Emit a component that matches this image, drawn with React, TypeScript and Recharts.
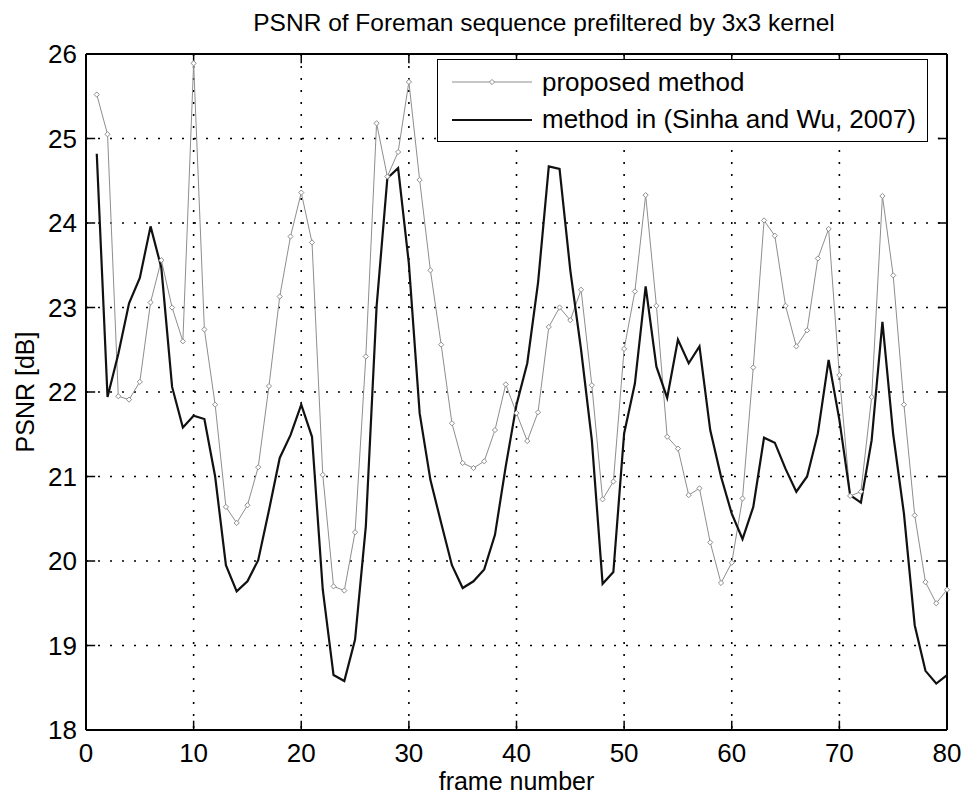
import { LineChart, Line, XAxis, YAxis, CartesianGrid, ReferenceLine, Legend } from 'recharts';

const FONT = '"Liberation Sans", Arial, sans-serif';
const GRAY = '#8e8e8e';
const INK = '#111';

// PSNR per frame
const proposed = [
  25.52, 25.05, 21.95, 21.91, 22.12, 23.06, 23.56, 23.0, 22.6, 25.89,
  22.74, 21.85, 20.64, 20.45, 20.66, 21.11, 22.07, 23.13, 23.84, 24.36,
  23.77, 21.02, 19.7, 19.65, 20.34, 22.42, 25.18, 24.55, 24.84, 25.67,
  24.51, 23.44, 22.56, 21.63, 21.16, 21.1, 21.18, 21.55, 22.09, 21.75,
  21.42, 21.76, 22.77, 23.0, 22.85, 23.21, 22.08, 20.73, 20.94, 22.51,
  23.19, 24.33, 23.02, 21.47, 21.33, 20.78, 20.86, 20.22, 19.74, 19.98,
  20.74, 22.29, 24.03, 23.85, 23.02, 22.54, 22.73, 23.58, 23.93, 22.2,
  20.77, 20.82, 21.94, 24.32, 23.38, 21.85, 20.54, 19.75, 19.5, 19.66,
];
const sinhaWu = [
  24.82, 21.94, 22.45, 23.05, 23.35, 23.96, 23.47, 22.06, 21.58, 21.72,
  21.68, 21.0, 19.95, 19.64, 19.76, 20.01, 20.6, 21.22, 21.49, 21.85,
  21.47, 19.66, 18.65, 18.58, 19.07, 20.41, 23.01, 24.53, 24.65, 23.52,
  21.75, 20.96, 20.45, 19.95, 19.68, 19.76, 19.9, 20.31, 21.12, 21.85,
  22.34, 23.29, 24.67, 24.64, 23.44, 22.5, 21.43, 19.73, 19.87, 21.51,
  22.1, 23.25, 22.3, 21.93, 22.62, 22.34, 22.54, 21.55, 21.0, 20.56,
  20.26, 20.64, 21.46, 21.4, 21.09, 20.82, 21.0, 21.51, 22.38, 21.67,
  20.78, 20.69, 21.43, 22.83, 21.5, 20.56, 19.24, 18.7, 18.55, 18.65,
];
const xTicks = [0, 10, 20, 30, 40, 50, 60, 70, 80];
const yTicks = [18, 19, 20, 21, 22, 23, 24, 25, 26];

const data = proposed.map((p, i) => ({ frame: i + 1, proposed: p, sinha: sinhaWu[i] }));

function Diamond(props: any) {
  const { cx, cy, index } = props;
  if (cx == null || cy == null) return <g key={`d${index}`} />;
  const r = 2.6;
  return (
    <path key={`d${index}`} d={`M${cx},${cy - r}L${cx + r},${cy}L${cx},${cy + r}L${cx - r},${cy}Z`}
      fill="#fff" stroke={GRAY} strokeWidth={1} />
  );
}

function LegendBox() {
  const rows = [
    { name: 'proposed method', color: GRAY, width: 1, marker: true },
    { name: 'method in (Sinha and Wu, 2007)', color: INK, width: 2.2, marker: false },
  ];
  return (
    <div style={{
      width: 491, height: 83, boxSizing: 'border-box', border: '1.5px solid #000', background: '#fff',
      fontFamily: FONT, fontSize: 26, color: '#000', position: 'relative',
    }}>
      {rows.map((r, i) => (
        <div key={r.name} style={{ position: 'absolute', left: 14, top: 6 + i * 37.6, height: 32, display: 'flex', alignItems: 'center' }}>
          <svg width={80} height={12} style={{ marginRight: 10 }}>
            <line x1={0} x2={80} y1={6} y2={6} stroke={r.color} strokeWidth={r.width} />
            {r.marker && <path d="M40,3.4L42.6,6L40,8.6L37.4,6Z" fill="#fff" stroke={GRAY} />}
          </svg>
          <span style={{ whiteSpace: 'nowrap' }}>{r.name}</span>
        </div>
      ))}
    </div>
  );
}

export default function App() {
  const tickStyle = { fill: '#000', fontSize: 26, fontFamily: FONT };
  return (
    <div style={{ position: 'relative', width: 966, height: 798, background: '#fff' }}>
      <style>{'body{margin:0}'}</style>
      <div style={{
        position: 'absolute', left: 144, width: 800, top: 9, textAlign: 'center',
        fontFamily: FONT, fontSize: 24.5, color: '#000', lineHeight: '28px',
      }}>
        PSNR of Foreman sequence prefiltered by 3x3 kernel
      </div>
      <LineChart width={966} height={798} data={data} margin={{ top: 54, right: 19, left: 0, bottom: 0 }}>
        <CartesianGrid stroke="#000" strokeWidth={1.6} strokeDasharray="2 10" />
        <XAxis dataKey="frame" type="number" domain={[0, 80]} ticks={xTicks} height={68}
          tickLine={false} tickSize={0} tickMargin={14} tick={tickStyle}
          axisLine={{ stroke: '#000', strokeWidth: 2 }}
          label={{
            content: (p: any) => {
              const vb = p.viewBox;
              return <text x={vb.x + vb.width / 2} y={vb.y + vb.height - 8} textAnchor="middle"
                fontFamily={FONT} fontSize={25} fill="#000">frame number</text>;
            },
          }} />
        <YAxis type="number" domain={[18, 26]} ticks={yTicks} width={86} interval={0}
          tickLine={false} tickSize={0} tickMargin={9} tick={tickStyle}
          axisLine={{ stroke: '#000', strokeWidth: 2 }}
          label={{
            content: (p: any) => {
              const vb = p.viewBox;
              const cx = 25;
              const cy = vb.y + vb.height / 2;
              return <text x={cx} y={cy} transform={`rotate(-90 ${cx} ${cy})`} textAnchor="middle"
                dominantBaseline="central" fontFamily={FONT} fontSize={25} fill="#000">PSNR [dB]</text>;
            },
          }} />
        <ReferenceLine y={26} stroke="#000" strokeWidth={2} />
        <ReferenceLine x={80} stroke="#000" strokeWidth={2} />
        {xTicks.map((t) => (
          <ReferenceLine key={`xb${t}`} segment={[{ x: t, y: 18 }, { x: t, y: 18.11 }]} stroke="#000" strokeWidth={1.5} />
        ))}
        {xTicks.map((t) => (
          <ReferenceLine key={`xt${t}`} segment={[{ x: t, y: 26 }, { x: t, y: 25.89 }]} stroke="#000" strokeWidth={1.5} />
        ))}
        {yTicks.map((t) => (
          <ReferenceLine key={`yl${t}`} segment={[{ x: 0, y: t }, { x: 0.85, y: t }]} stroke="#000" strokeWidth={1.5} />
        ))}
        {yTicks.map((t) => (
          <ReferenceLine key={`yr${t}`} segment={[{ x: 80, y: t }, { x: 79.15, y: t }]} stroke="#000" strokeWidth={1.5} />
        ))}
        <Line dataKey="proposed" name="proposed method" stroke={GRAY} strokeWidth={1} dot={Diamond}
          activeDot={false} isAnimationActive={false} />
        <Line dataKey="sinha" name="method in (Sinha and Wu, 2007)" stroke={INK} strokeWidth={2.2} dot={false}
          activeDot={false} isAnimationActive={false} />
        <Legend layout="vertical" align="center" verticalAlign="middle"
          wrapperStyle={{ left: 437, top: 59, width: 491, height: 83 }} content={() => <LegendBox />} />
      </LineChart>
    </div>
  );
}
